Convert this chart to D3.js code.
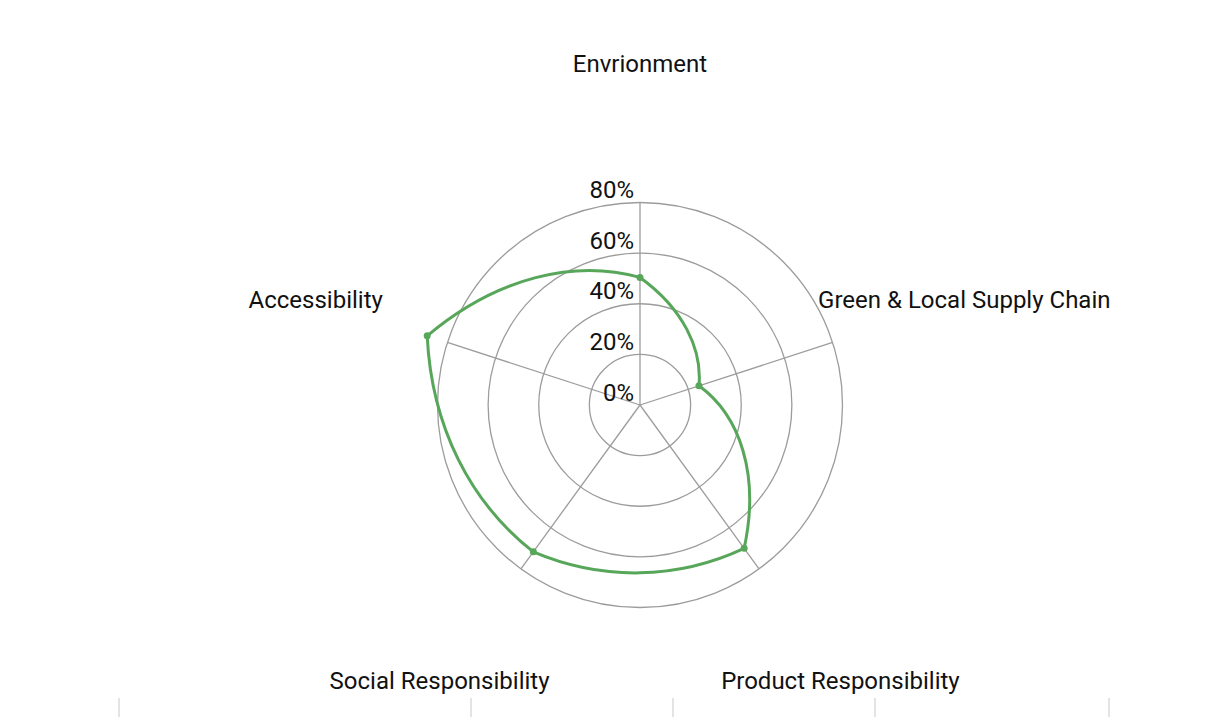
<!DOCTYPE html>
<html>
<head>
<meta charset="utf-8">
<script src="https://cdn.jsdelivr.net/npm/d3@7"></script>
<style>
html,body{margin:0;padding:0;background:#fff;}
svg{display:block;font-family:Roboto,"Noto Sans",sans-serif;}
</style>
</head>
<body>
<svg id="chart" width="1212" height="717"></svg>
<script>
const categories = ["Envrionment","Green & Local Supply Chain","Product Responsibility","Social Responsibility","Accessibility"];
const values = [50.4, 24.5, 70.0, 71.7, 88.4];
const ringTicks = [20, 40, 60, 80];
const tickLabelValues = [0, 20, 40, 60, 80];
const tickLabels = ["0%","20%","40%","60%","80%"];
const bottomTicks = [119, 471, 673, 875, 1109];

const svg = d3.select("#chart");
const cx = 640, cy = 405;
const r = d3.scaleLinear().domain([0, 80]).range([0, 202.5]);
const ang = d3.scaleLinear().domain([0, categories.length]).range([0, 2*Math.PI]);
const g = svg.append("g").attr("transform", `translate(${cx},${cy})`);
const grid = "#9c9c9c";

// rings
g.selectAll("circle.ring").data(ringTicks).join("circle")
  .attr("class","ring").attr("r", d => r(d))
  .attr("fill","none").attr("stroke",grid).attr("stroke-width",1.3);

// spokes
g.selectAll("line.spoke").data(categories).join("line")
  .attr("class","spoke")
  .attr("x1",0).attr("y1",0)
  .attr("x2",(d,i)=> d3.pointRadial(ang(i), r(80))[0])
  .attr("y2",(d,i)=> d3.pointRadial(ang(i), r(80))[1])
  .attr("stroke",grid).attr("stroke-width",1.3);

// tick labels
g.selectAll("text.tick").data(tickLabelValues).join("text")
  .attr("class","tick")
  .attr("x",-6).attr("y",d=> -r(d) - 4.5)
  .attr("text-anchor","end")
  .attr("font-size",24).attr("fill","#111")
  .text((d,i)=>tickLabels[i]);

// data curve: each segment a cubic with control points on the polar interpolation
const n = values.length;
const path = d3.path();
values.forEach((v,i)=>{
  const j = i + 1;
  const a0 = ang(i), a1 = ang(j);
  const r0 = r(v), r1 = r(values[j % n]);
  const p0 = d3.pointRadial(a0, r0);
  const c1 = d3.pointRadial(a0 + (a1-a0)/3, r0 + (r1-r0)/3);
  const c2 = d3.pointRadial(a0 + 2*(a1-a0)/3, r0 + 2*(r1-r0)/3);
  const p1 = d3.pointRadial(a1, r1);
  if (i === 0) path.moveTo(p0[0], p0[1]);
  path.bezierCurveTo(c1[0], c1[1], c2[0], c2[1], p1[0], p1[1]);
});
path.closePath();
g.append("path")
  .attr("d", path.toString())
  .attr("fill","none").attr("stroke","#57a65a").attr("stroke-width",3)
  .attr("stroke-linejoin","round");

g.selectAll("circle.pt").data(values).join("circle")
  .attr("class","pt")
  .attr("cx",(d,i)=> d3.pointRadial(ang(i), r(d))[0])
  .attr("cy",(d,i)=> d3.pointRadial(ang(i), r(d))[1])
  .attr("r",3.5).attr("fill","#57a65a");

// category labels
const lr = 341;
g.selectAll("text.cat").data(categories).join("text")
  .attr("class","cat")
  .attr("x",(d,i)=> d3.pointRadial(ang(i), lr)[0])
  .attr("y",(d,i)=> d3.pointRadial(ang(i), lr)[1])
  .attr("text-anchor","middle").attr("dominant-baseline","central")
  .attr("font-size",24).attr("fill","#111")
  .text(d=>d);

// faint ticks along the bottom edge
svg.selectAll("line.bt").data(bottomTicks).join("line")
  .attr("class","bt")
  .attr("x1",d=>d).attr("x2",d=>d).attr("y1",698).attr("y2",717)
  .attr("stroke","#d6d6d6").attr("stroke-width",1.3);
</script>
</body>
</html>
